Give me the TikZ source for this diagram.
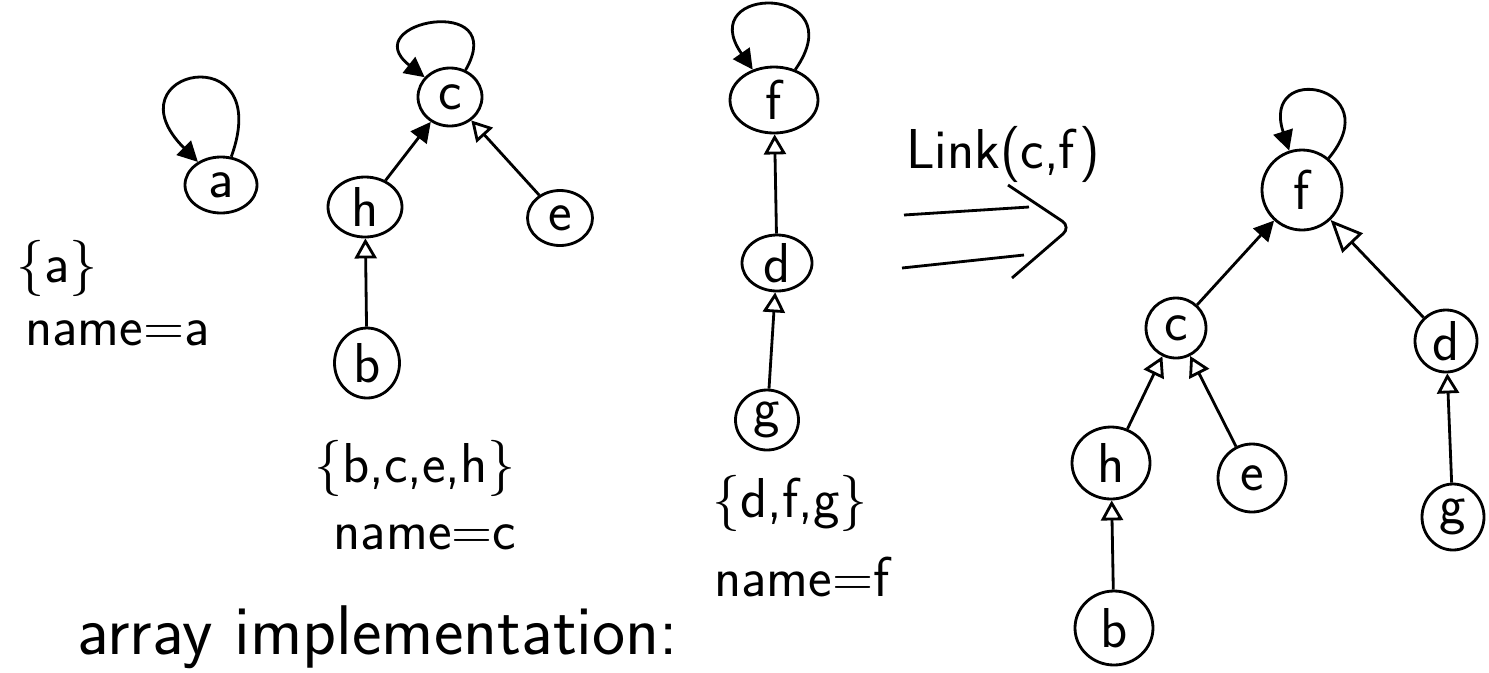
\documentclass[tikz,border=0pt]{standalone}
\usetikzlibrary{arrows.meta, shapes.geometric}

\begin{document}
\begin{tikzpicture}[
        vertex/.style={ellipse, draw, thick, minimum width=0.68cm, minimum height=0.6cm, inner sep=0pt, font=\fontsize{16}{18}\selectfont\sffamily},
        rvertex/.style={vertex, minimum width=0.72cm, minimum height=0.68cm},
        toparent/.style={thick, -{Triangle[open, length=0.2cm, width=0.22cm]}},
        toparentfill/.style={thick, -{Triangle[length=0.2cm, width=0.2cm]}},
        selfloop/.style={thick, -{Triangle[length=0.2cm, width=0.2cm]}, looseness=1},
        settext/.style={font=\fontsize{16}{18}\selectfont\sffamily}
    ]

        \useasboundingbox (0,0) rectangle (14.89,-6.72);
        \fill[white] (0,0) rectangle (14.89,-6.72);

        % Set {a}: a single root
        \node[vertex, minimum width=0.72cm, minimum height=0.56cm] (a) at (2.21,-1.85) {a};
        \draw[selfloop] (a) to[out=70, in=135, min distance=1.3cm] (a);

        % Set {b,c,e,h}: root c
        \node[vertex, minimum width=0.64cm, minimum height=0.58cm] (c) at (4.50,-0.97) {c};
        \node[vertex, minimum width=0.74cm] (h) at (3.65,-2.07) {h};
        \node[vertex, minimum width=0.65cm, minimum height=0.55cm] (e) at (5.60,-2.18) {e};
        \node[vertex, minimum width=0.65cm, minimum height=0.7cm] (b) at (3.67,-3.63) {b};
        \draw[selfloop] (c) to[out=60, in=142, min distance=0.9cm] (c);
        \draw[toparentfill] (h) -- (c);
        \draw[toparent] (e) -- (c);
        \draw[toparent] (b) -- (h);

        % Set {d,f,g}: root f
        \node[vertex, minimum width=0.88cm, minimum height=0.66cm] (f) at (7.74,-1.00) {f};
        \node[vertex, minimum width=0.70cm, minimum height=0.56cm] (d) at (7.77,-2.63) {d};
        \node[vertex, minimum width=0.63cm, minimum height=0.6cm] (g) at (7.67,-4.20) {g};
        \draw[selfloop] (f) to[out=55, in=125, min distance=1.05cm] (f);
        \draw[toparent] (d) -- (f);
        \draw[toparent] (g) -- (d);

        % Link(c,f): c hangs under f
        \node[rvertex, minimum size=0.8cm] (lf) at (13.02,-1.90) {f};
        \node[rvertex, minimum width=0.6cm, minimum height=0.6cm] (lc) at (11.76,-3.28) {c};
        \node[rvertex, minimum width=0.62cm, minimum height=0.62cm] (ld) at (14.46,-3.41) {d};
        \node[rvertex, minimum width=0.78cm, minimum height=0.72cm] (lh) at (11.11,-4.63) {h};
        \node[rvertex, minimum width=0.68cm, minimum height=0.68cm] (le) at (12.52,-4.78) {e};
        \node[rvertex, minimum width=0.62cm, minimum height=0.66cm] (lg) at (14.53,-5.17) {g};
        \node[rvertex, minimum width=0.78cm, minimum height=0.74cm] (lb) at (11.14,-6.28) {b};
        \draw[selfloop] (lf) to[out=50, in=108, min distance=0.95cm] (lf);
        \draw[toparentfill] (lc) -- (lf);
        \draw[toparent, -{Triangle[open, length=0.32cm, width=0.28cm]}] (ld) -- (lf);
        \draw[toparent] (lh) -- (lc);
        \draw[toparent] (le) -- (lc);
        \draw[toparent] (lg) -- (ld);
        \draw[toparent] (lb) -- (lh);

        % Big double arrow
        \draw[thick] (9.04,-2.15) -- (10.29,-2.07);
        \draw[thick] (9.02,-2.68) -- (10.24,-2.55);
        \draw[thick, rounded corners=3pt] (10.08,-1.85) -- (10.71,-2.27) -- (10.12,-2.78);

        % Labels
        \node[settext] (set_a) at (0.57,-2.68) {\{a\}};
        \node[settext, anchor=west] (name_a) at (0.13,-3.33) {name=a};
        \node[settext] (set_c) at (4.15,-4.68) {\{b,c,e,h\}};
        \node[settext] (name_c) at (4.25,-5.37) {name=c};
        \node[settext] (set_f) at (7.90,-5.03) {\{d,f,g\}};
        \node[settext] (name_f) at (8.02,-5.77) {name=f};
        \node[settext] (link_text) at (10.03,-1.54) {Link(c,f)};
        \node[settext, font=\fontsize{20}{24}\selectfont\sffamily, anchor=base west] (impl_text) at (0.65,-6.54) {array implementation:};

    \end{tikzpicture}
\end{document}
